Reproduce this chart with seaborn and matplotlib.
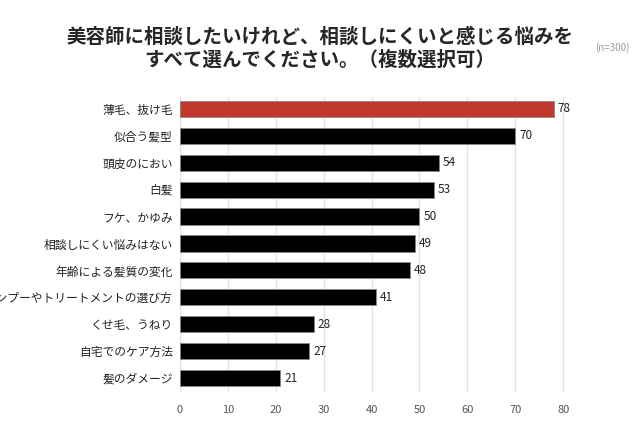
import matplotlib
matplotlib.use("Agg")
import matplotlib.pyplot as plt
import seaborn as sns
import pandas as pd

# data
categories = [
    "薄毛、抜け毛",
    "似合う髪型",
    "頭皮のにおい",
    "白髪",
    "フケ、かゆみ",
    "相談しにくい悩みはない",
    "年齢による髪質の変化",
    "シャンプーやトリートメントの選び方",
    "くせ毛、うねり",
    "自宅でのケア方法",
    "髪のダメージ",
]
values = [78, 70, 54, 53, 50, 49, 48, 41, 28, 27, 21]
bar_colors = ["#c0392b"] + ["#000000"] * (len(categories) - 1)
x_ticks = [0, 10, 20, 30, 40, 50, 60, 70, 80]

TITLE = "美容師に相談したいけれど、相談しにくいと感じる悩みを\nすべて選んでください。（複数選択可）"

sns.set_style("white")
plt.rcParams["font.family"] = ["Noto Sans CJK JP", "DejaVu Sans"]

df = pd.DataFrame({"item": categories, "pct": values})

fig = plt.figure(figsize=(6.4, 4.36), dpi=100)
ax = fig.add_axes([0.281, 0.099, 0.614, 0.679])

sns.barplot(data=df, x="pct", y="item", hue="item", palette=bar_colors,
            saturation=1, legend=False, width=0.6, edgecolor="#888888",
            linewidth=0.6, ax=ax, zorder=3)

for i, v in enumerate(values):
    ax.text(v + 0.8, i, str(v), va="center", ha="left", fontsize=8.5, color="#222222")

ax.set_xlim(0, 82)
ax.set_ylim(10.55, -0.45)
ax.set_xticks(x_ticks)
ax.xaxis.grid(True, color="#e3e3e3", linewidth=1, zorder=0)
ax.set_axisbelow(True)
for s in ax.spines.values():
    s.set_visible(False)
ax.tick_params(axis="x", length=0, pad=9, labelsize=8, labelcolor="#555555")
ax.tick_params(axis="y", length=0, pad=5, labelsize=8.5, labelcolor="#222222")
ax.set_xlabel("")
ax.set_ylabel("")

fig.text(0.5, 0.888, TITLE, ha="center", va="center", fontsize=14,
         fontweight="bold", linespacing=1.25)
fig.text(0.957, 0.892, "(n=300)", ha="center", va="center", fontsize=7,
         color="#999999")

fig.savefig("out.png", dpi=100)
